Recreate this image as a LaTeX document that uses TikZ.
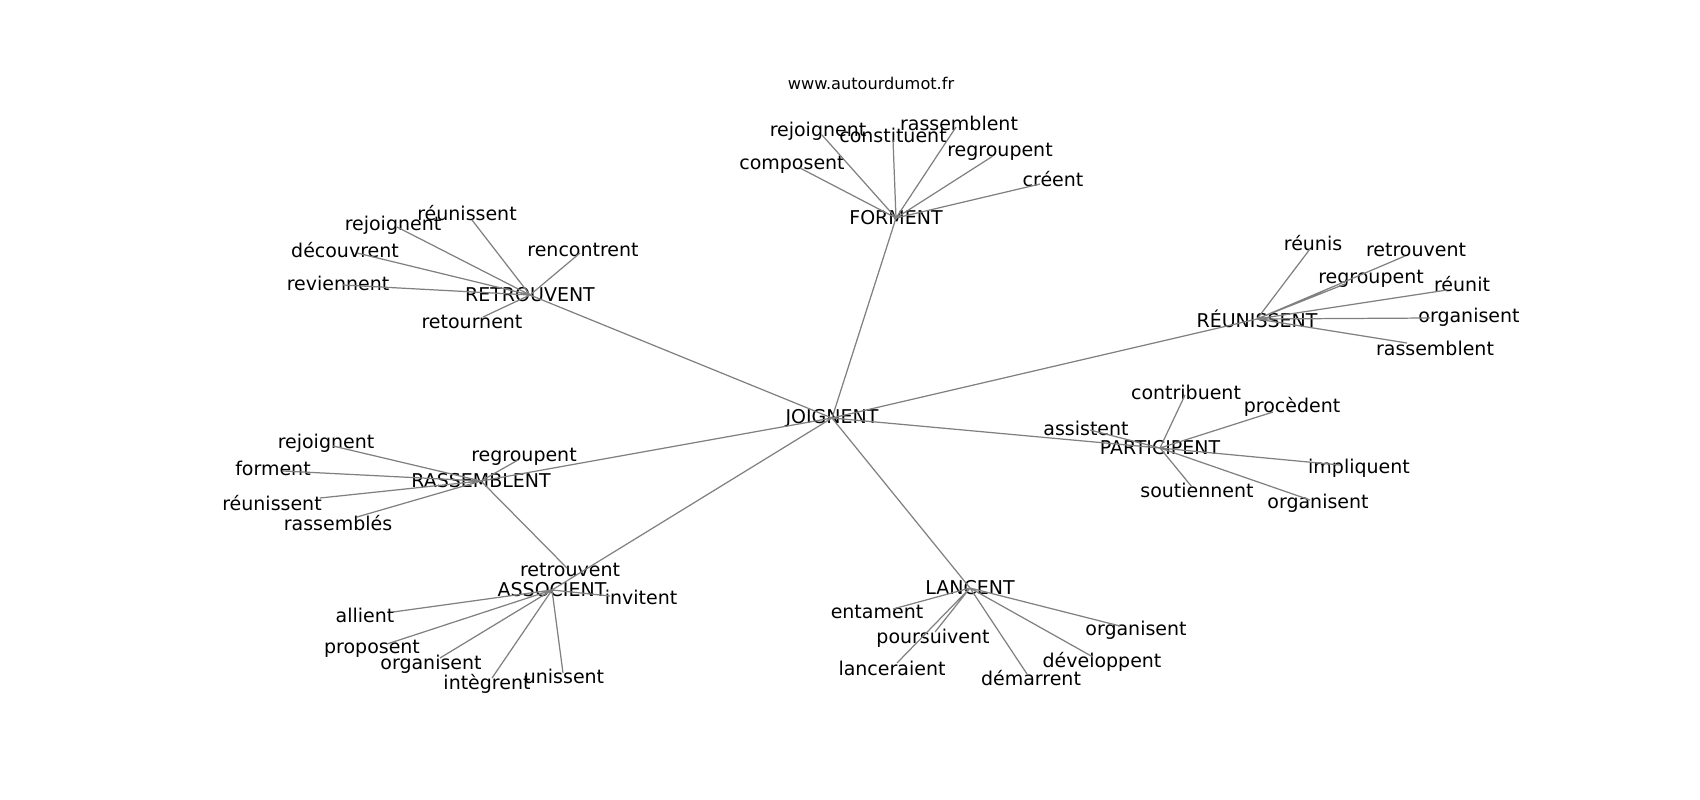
\documentclass[tikz,border=0pt]{standalone}
\usepackage{fontspec}
\setmainfont{DejaVu Sans}

\begin{document}
\begin{tikzpicture}[x=0.01cm,y=-0.01cm,
    word/.style={inner sep=0pt, font=\fontsize{5.4}{6}\selectfont},
    edge/.style={draw=gray, line width=0.35pt}]
  \useasboundingbox (0,0) rectangle (1700,800);
  \node[inner sep=0pt, font=\fontsize{4.6}{5}\selectfont] (site) at (871,83) {www.autourdumot.fr};

  % hubs
  \node[word] (J) at (832,418) {JOIGNENT};
  \node[word] (F) at (896,218) {FORMENT};
  \node[word] (R) at (530,295) {RETROUVENT};
  \node[word] (U) at (1257,319) {RÉUNISSENT};
  \node[word] (P) at (1160,448) {PARTICIPENT};
  \node[word] (S) at (481,481) {RASSEMBLENT};
  \node[word] (A) at (552,590) {ASSOCIENT};
  \node[word] (N) at (970,588) {LANCENT};

  % FORMENT
  \coordinate (F1) at (822,135); \node[word] (F1t) at (818,131) {rejoignent};
  \coordinate (F2) at (893,140); \node[word] (F2t) at (893,135) {constituent};
  \coordinate (F3) at (956,127); \node[word] (F3t) at (959,123) {rassemblent};
  \coordinate (F4) at (993,156); \node[word] (F4t) at (1000,152) {regroupent};
  \coordinate (F5) at (1040,184); \node[word] (F5t) at (1053,179) {créent};
  \coordinate (F6) at (800,168); \node[word] (F6t) at (792,165) {composent};

  % RETROUVENT
  \coordinate (R1) at (472,220); \node[word] (R1t) at (467,213) {réunissent};
  \coordinate (R2) at (397,227); \node[word] (R2t) at (393,225) {rejoignent};
  \coordinate (R3) at (357,253); \node[word] (R3t) at (345,250) {découvrent};
  \coordinate (R4) at (580,253); \node[word] (R4t) at (583,250) {rencontrent};
  \coordinate (R5) at (343,285); \node[word] (R5t) at (338,283) {reviennent};
  \coordinate (R6) at (483,317); \node[word] (R6t) at (472,322) {retournent};

  % RÉUNISSENT
  \coordinate (U1) at (1310,249); \node[word] (U1t) at (1313,243) {réunis};
  \coordinate (U2) at (1405,256); \node[word] (U2t) at (1416,250) {retrouvent};
  \coordinate (U3) at (1345,284); \node[word] (U3t) at (1371,279) {regroupent};
  \coordinate (U4) at (1447,290); \node[word] (U4t) at (1462,284) {réunit};
  \coordinate (U5) at (1430,318); \node[word] (U5t) at (1469,317) {organisent};
  \coordinate (U6) at (1407,343); \node[word] (U6t) at (1435,348) {rassemblent};

  % PARTICIPENT
  \coordinate (P1) at (1185,395); \node[word] (P1t) at (1186,392) {contribuent};
  \coordinate (P2) at (1273,412); \node[word] (P2t) at (1292,407) {procèdent};
  \coordinate (P3) at (1090,430); \node[word] (P3t) at (1086,428) {assistent};
  \coordinate (P4) at (1340,465); \node[word] (P4t) at (1359,468) {impliquent};
  \coordinate (P5) at (1192,487); \node[word] (P5t) at (1197,490) {soutiennent};
  \coordinate (P6) at (1310,500); \node[word] (P6t) at (1318,503) {organisent};

  % RASSEMBLENT
  \coordinate (S1) at (333,446); \node[word] (S1t) at (326,443) {rejoignent};
  \coordinate (S2) at (283,471); \node[word] (S2t) at (273,468) {forment};
  \coordinate (S3) at (518,460); \node[word] (S3t) at (524,457) {regroupent};
  \coordinate (S4) at (320,498); \node[word] (S4t) at (272,503) {réunissent};
  \coordinate (S5) at (357,517); \node[word] (S5t) at (338,523) {rassemblés};
  \coordinate (S6) at (567,568); \node[word] (S6t) at (570,570) {retrouvent};

  % ASSOCIENT
  \coordinate (A1) at (610,596); \node[word] (A1t) at (641,597) {invitent};
  \coordinate (A2) at (393,612); \node[word] (A2t) at (365,615) {allient};
  \coordinate (A3) at (387,644); \node[word] (A3t) at (372,649) {proposent};
  \coordinate (A4) at (440,658); \node[word] (A4t) at (431,664) {organisent};
  \coordinate (A5) at (492,678); \node[word] (A5t) at (487,684) {intègrent};
  \coordinate (A6) at (563,673); \node[word] (A6t) at (564,676) {unissent};

  % LANCENT
  \coordinate (N1) at (893,609); \node[word] (N1t) at (877,612) {entament};
  \coordinate (N2) at (935,632); \node[word] (N2t) at (933,638) {poursuivent};
  \coordinate (N3) at (897,663); \node[word] (N3t) at (892,668) {lanceraient};
  \coordinate (N4) at (1027,674); \node[word] (N4t) at (1031,678) {démarrent};
  \coordinate (N5) at (1093,657); \node[word] (N5t) at (1102,662) {développent};
  \coordinate (N6) at (1120,626); \node[word] (N6t) at (1136,630) {organisent};

  \draw[edge] (J.center) -- (F.center) (J.center) -- (R.center) (J.center) -- (U.center)
    (J.center) -- (P.center) (J.center) -- (S.center) (J.center) -- (A.center) (J.center) -- (N.center);
  \draw[edge] (F.center) -- (F1) (F.center) -- (F2) (F.center) -- (F3) (F.center) -- (F4) (F.center) -- (F5) (F.center) -- (F6);
  \draw[edge] (R.center) -- (R1) (R.center) -- (R2) (R.center) -- (R3) (R.center) -- (R4) (R.center) -- (R5) (R.center) -- (R6);
  \draw[edge] (U.center) -- (U1) (U.center) -- (U2) (U.center) -- (U3) (U.center) -- (U4) (U.center) -- (U5) (U.center) -- (U6);
  \draw[edge] (P.center) -- (P1) (P.center) -- (P2) (P.center) -- (P3) (P.center) -- (P4) (P.center) -- (P5) (P.center) -- (P6);
  \draw[edge] (S.center) -- (S1) (S.center) -- (S2) (S.center) -- (S3) (S.center) -- (S4) (S.center) -- (S5) (S.center) -- (S6);
  \draw[edge] (A.center) -- (A1) (A.center) -- (A2) (A.center) -- (A3) (A.center) -- (A4) (A.center) -- (A5) (A.center) -- (A6);
  \draw[edge] (N.center) -- (N1) (N.center) -- (N2) (N.center) -- (N3) (N.center) -- (N4) (N.center) -- (N5) (N.center) -- (N6);
\end{tikzpicture}
\end{document}
